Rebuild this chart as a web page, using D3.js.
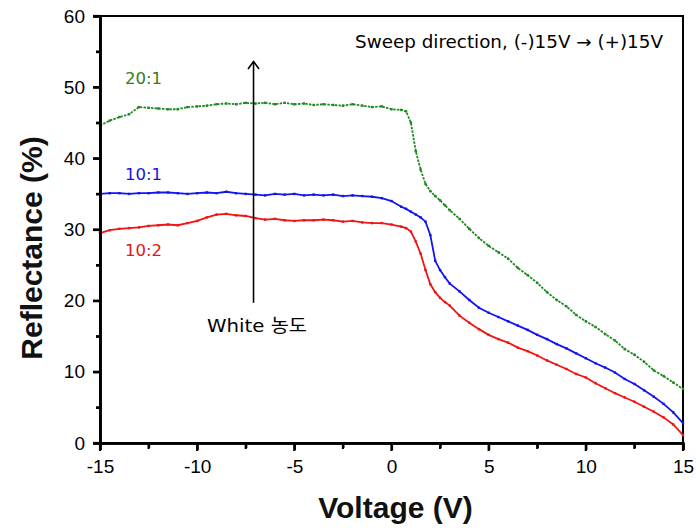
<!DOCTYPE html>
<html>
<head>
<meta charset="utf-8">
<script src="https://cdn.jsdelivr.net/npm/d3@7"></script>
<style>
  html, body { margin: 0; padding: 0; background: #fff; }
  svg { display: block; }
</style>
</head>
<body>
<svg id="chart" width="698" height="532"></svg>
<script>
// ---- data ----
const voltage = [
  -15,-14.5,-14,-13.5,-13,-12.5,-12,-11.5,-11,-10.5,-10,-9.5,-9,-8.5,-8,-7.5,-7,-6.5,-6,-5.5,
  -5,-4.5,-4,-3.5,-3,-2.5,-2,-1.5,-1,-0.5,0,0.5,
  0.75,1,1.25,1.5,1.75,2,2.25,2.5,2.75,3,
  3.5,4,4.5,5,5.5,6,6.5,7,7.5,8,8.5,9,9.5,10,10.5,11,11.5,12,12.5,13,13.5,14,14.5,15
];
const ratio20to1 = [
  44.6,45.3,45.8,46.2,47.2,47.1,47.0,46.9,46.9,47.2,47.3,47.4,47.6,47.7,47.6,47.8,47.7,47.8,47.6,47.8,
  47.6,47.7,47.5,47.6,47.5,47.4,47.6,47.4,47.2,47.3,46.9,46.8,
  46.6,45.0,41.0,38.4,36.4,35.4,34.7,34.1,33.4,32.7,
  31.5,30.1,28.8,27.7,26.8,25.9,24.6,23.6,22.5,21.2,20.1,19.2,18.0,17.1,16.3,15.3,14.4,13.2,12.4,11.4,10.2,9.4,8.5,7.6
];
const ratio10to1 = [
  35.0,35.1,35.1,35.0,35.1,35.1,35.2,35.2,35.1,35.0,35.1,35.2,35.1,35.3,35.1,35.0,34.9,34.8,35.0,34.9,
  35.0,34.8,34.9,34.8,34.9,34.7,34.8,34.7,34.6,34.4,34.0,33.2,
  32.9,32.5,32.1,31.7,31.1,29.2,25.6,24.3,23.3,22.4,
  21.3,20.1,19.0,18.3,17.7,17.1,16.5,15.9,15.2,14.6,13.9,13.3,12.6,11.9,11.2,10.6,9.9,9.0,8.3,7.4,6.5,5.5,4.3,2.8
];
const ratio10to2 = [
  29.5,29.9,30.1,30.2,30.3,30.5,30.6,30.7,30.6,30.9,31.2,31.7,32.1,32.2,32.0,31.9,31.6,31.4,31.5,31.3,
  31.2,31.3,31.3,31.4,31.3,31.1,31.2,31.0,30.9,30.9,30.7,30.4,
  30.2,29.7,28.3,26.6,24.3,22.3,21.2,20.4,19.8,19.3,
  17.9,16.9,16.0,15.2,14.6,14.1,13.4,12.9,12.3,11.6,11.0,10.4,9.7,9.2,8.4,7.7,7.0,6.4,5.8,5.1,4.4,3.6,2.6,1.1
];
const seriesNames = ["20:1", "10:1", "10:2"];
const seriesColors = ["#1f8a1f", "#1414f0", "#f01414"];
const labelColors = ["#3a7a22", "#1414e0", "#e81414"];
const xTicks = [-15, -10, -5, 0, 5, 10, 15];
const xMinorTicks = [-12.5, -7.5, -2.5, 2.5, 7.5, 12.5];
const yTicks = [0, 10, 20, 30, 40, 50, 60];
const yMinorTicks = [5, 15, 25, 35, 45, 55];

// ---- drawing ----
const svg = d3.select("#chart");
const pLeft = 100, pRight = 683, pTop = 16, pBottom = 443;
const x = d3.scaleLinear().domain([-15, 15]).range([pLeft, pRight]);
const y = d3.scaleLinear().domain([0, 60]).range([pBottom, pTop]);

const seriesValues = [ratio20to1, ratio10to1, ratio10to2];

// frame (top/right)
svg.append("rect")
  .attr("x", pLeft).attr("y", pTop)
  .attr("width", pRight - pLeft).attr("height", pBottom - pTop)
  .attr("fill", "none").attr("stroke", "#000").attr("stroke-width", 2);

// series
const line = d3.line().x(d => x(d[0])).y(d => y(d[1]));
seriesValues.forEach((vals, i) => {
  const pts = voltage.map((v, j) => [v, vals[j]]);
  svg.append("path")
    .datum(pts)
    .attr("d", line)
    .attr("fill", "none")
    .attr("stroke", seriesColors[i])
    .attr("stroke-width", 1.8)
    .attr("stroke-dasharray", i === 0 ? "2.5,1.2" : null);
  svg.append("g").selectAll("rect")
    .data(pts).join("rect")
    .attr("x", d => x(d[0]) - 1.2)
    .attr("y", d => y(d[1]) - 1.2)
    .attr("width", 2.4).attr("height", 2.4)
    .attr("fill", seriesColors[i]);
});

// axes
const fontTick = "'Liberation Sans', Arial, sans-serif";
const xAxis = svg.append("g").attr("transform", `translate(0,${pBottom})`)
  .call(d3.axisBottom(x).tickValues(xTicks).tickSize(7).tickPadding(10).tickFormat(d3.format("d")));
const xMinor = svg.append("g").attr("transform", `translate(0,${pBottom})`)
  .call(d3.axisBottom(x).tickValues(xMinorTicks).tickSize(5).tickSizeOuter(0).tickFormat(""));
const yAxis = svg.append("g").attr("transform", `translate(${pLeft},0)`)
  .call(d3.axisLeft(y).tickValues(yTicks).tickSize(7).tickPadding(8).tickFormat(d3.format("d")));
const yMinor = svg.append("g").attr("transform", `translate(${pLeft},0)`)
  .call(d3.axisLeft(y).tickValues(yMinorTicks).tickSize(4).tickSizeOuter(0).tickFormat(""));

[xAxis, xMinor, yAxis, yMinor].forEach(g => {
  g.select(".domain").attr("stroke", "#000").attr("stroke-width", 2.6);
  g.selectAll(".tick line").attr("stroke", "#000").attr("stroke-width", 2.2);
  g.selectAll(".tick text").attr("fill", "#000")
    .style("font-family", fontTick).style("font-size", "19px");
});
xAxis.selectAll(".tick text").text(d => d < 0 ? "-" + Math.abs(d) : d);

// explicit tick marks (ensure visibility)
const tickG = svg.append("g").attr("stroke", "#000").attr("stroke-width", 2.2);
tickG.selectAll("line.xt").data(xTicks).join("line").attr("class", "xt")
  .attr("x1", d => x(d)).attr("x2", d => x(d)).attr("y1", pBottom).attr("y2", pBottom + 8);
tickG.selectAll("line.xm").data(xMinorTicks).join("line").attr("class", "xm")
  .attr("x1", d => x(d)).attr("x2", d => x(d)).attr("y1", pBottom).attr("y2", pBottom + 6);
tickG.selectAll("line.yt").data(yTicks).join("line").attr("class", "yt")
  .attr("x1", pLeft - 7).attr("x2", pLeft).attr("y1", d => y(d)).attr("y2", d => y(d));
tickG.selectAll("line.ym").data(yMinorTicks).join("line").attr("class", "ym")
  .attr("x1", pLeft - 4).attr("x2", pLeft).attr("y1", d => y(d)).attr("y2", d => y(d));

// axis titles
svg.append("text")
  .attr("x", (pLeft + pRight) / 2 + 4).attr("y", 518)
  .attr("text-anchor", "middle")
  .style("font-family", fontTick).style("font-size", "30px").style("font-weight", "bold")
  .attr("fill", "#111")
  .text("Voltage (V)");
svg.append("text")
  .attr("transform", "translate(42,248) rotate(-90)")
  .attr("text-anchor", "middle")
  .style("font-family", fontTick).style("font-size", "30px").style("font-weight", "bold")
  .attr("fill", "#111")
  .text("Reflectance (%)");

// annotations
const annFont = "'DejaVu Sans', 'Noto Sans CJK KR', sans-serif";
svg.append("text")
  .attr("x", 355).attr("y", 48)
  .attr("textLength", 308).attr("lengthAdjust", "spacingAndGlyphs")
  .style("font-family", annFont).style("font-size", "17px")
  .attr("fill", "#000")
  .text("Sweep direction, (-)15V \u2192 (+)15V");

const labelY = [84, 180, 256];
seriesNames.forEach((n, i) => {
  svg.append("text")
    .attr("x", 125).attr("y", labelY[i])
    .style("font-family", annFont).style("font-size", "16.5px")
    .attr("fill", labelColors[i])
    .text(n);
});

// arrow
const arrowX = x(-7.1);
svg.append("line")
  .attr("x1", arrowX).attr("x2", arrowX)
  .attr("y1", y(19.7)).attr("y2", y(53.6))
  .attr("stroke", "#000").attr("stroke-width", 1.6);
svg.append("path")
  .attr("d", `M${arrowX - 5.5},${y(53.6) + 7.5} L${arrowX},${y(53.6)} L${arrowX + 5.5},${y(53.6) + 7.5}`)
  .attr("fill", "none").attr("stroke", "#000").attr("stroke-width", 1.6);

svg.append("text")
  .attr("x", 207).attr("y", 332)
  .attr("textLength", 100).attr("lengthAdjust", "spacingAndGlyphs")
  .style("font-family", annFont).style("font-size", "18px")
  .attr("fill", "#000")
  .text("White 농도");
</script>
</body>
</html>
